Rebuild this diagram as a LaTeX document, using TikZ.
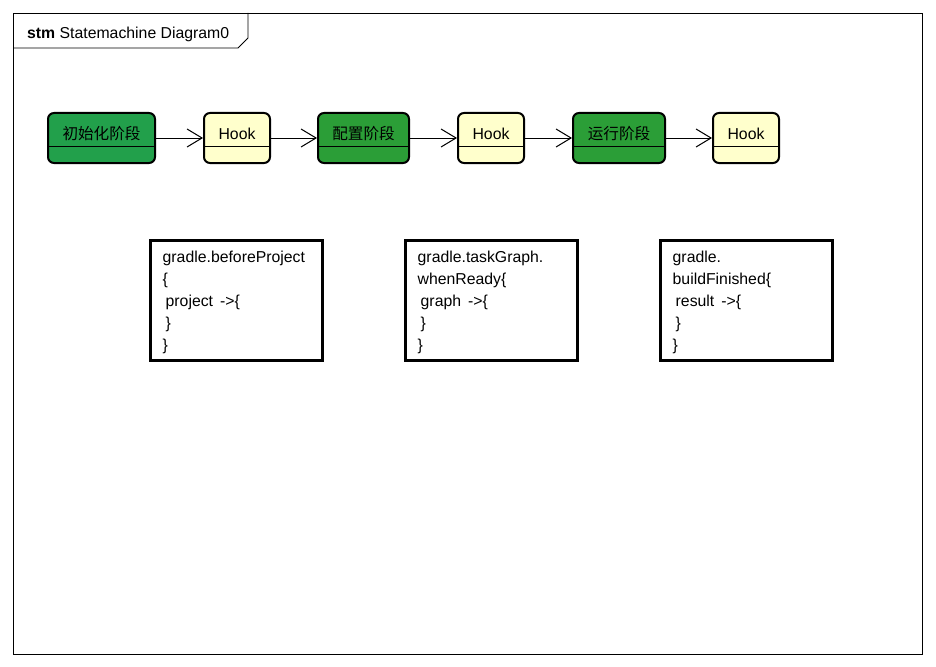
\documentclass[tikz,border=0pt]{standalone}
\usepackage{fontspec}
\setmainfont{Liberation Sans}
\newfontfamily\cjk{Noto Sans CJK SC}
\usetikzlibrary{arrows.meta}
\definecolor{stgreenA}{RGB}{34,160,75}
\definecolor{stgreenB}{RGB}{43,158,55}
\definecolor{hookfill}{RGB}{255,255,204}
\tikzset{
  x=1pt, y=-1pt,
  stbox/.style={draw=black, line width=2pt, rounded corners=6pt, minimum width=#1, minimum height=50pt, inner sep=0pt},
  stlabel/.style={font=\fontsize{15.8}{18}\selectfont, inner sep=0pt},
  cjklabel/.style={font=\cjk\fontsize{15.6}{18}\selectfont, inner sep=0pt},
  trans/.style={draw=black, line width=1pt, -{Straight Barb[length=15pt,width=18pt,line width=1pt]}},
  notebox/.style={draw=black, line width=3pt, minimum width=172pt, minimum height=120pt, inner sep=0pt},
  notetext/.style={font=\fontsize{15.8}{22}\selectfont, align=left, inner sep=0pt, anchor=west},
  divline/.style={draw=black, line width=1pt}
}
\begin{document}
\begin{tikzpicture}
\useasboundingbox (0,0) rectangle (936,666);
% frame
\draw[line width=0.8pt] (13,13) rectangle (922,654);
\draw[line width=0.8pt] (13,48) -- (238,48) -- (248,38) -- (248,13);
\node[anchor=base west, inner sep=0pt, font=\fontsize{15.8}{18}\selectfont] (title) at (27,39) {\textbf{stm} Statemachine Diagram0};

% states
\node[stbox=107pt, fill=stgreenA] (s1) at (101.5,138) {};
\node[stbox=66pt, fill=hookfill] (h1) at (237,138) {};
\node[stbox=91pt, fill=stgreenB] (s2) at (363.5,138) {};
\node[stbox=66pt, fill=hookfill] (h2) at (491,138) {};
\node[stbox=92pt, fill=stgreenB] (s3) at (619,138) {};
\node[stbox=66pt, fill=hookfill] (h3) at (746,138) {};

\foreach \n in {s1,h1,s2,h2,s3,h3}{
  \draw[divline] (\n.west |- 0,146) -- (\n.east |- 0,146);
}

\node[cjklabel] (t1) at (101.5,134) {初始化阶段};
\node[stlabel] (t2) at (237,134) {Hook};
\node[cjklabel] (t3) at (363.5,134) {配置阶段};
\node[stlabel] (t4) at (491,134) {Hook};
\node[cjklabel] (t5) at (619,134) {运行阶段};
\node[stlabel] (t6) at (746,134) {Hook};

% transitions
\draw[trans] (s1) -- (h1);
\draw[trans] (h1) -- (s2);
\draw[trans] (s2) -- (h2);
\draw[trans] (h2) -- (s3);
\draw[trans] (s3) -- (h3);

% notes
\node[notebox] (n1) at (236,300) {};
\node[notebox] (n2) at (491,300) {};
\node[notebox] (n3) at (746,300) {};

\node[notetext] (c1) at ([xshift=14pt,yshift=-2pt]n1.west) {gradle.beforeProject\\\{\\\hspace{3pt}project\hspace{7pt}->\{\\\hspace{3pt}\}\\\}};
\node[notetext] (c2) at ([xshift=14pt,yshift=-2pt]n2.west) {gradle.taskGraph.\\whenReady\{\\\hspace{3pt}graph\hspace{7pt}->\{\\\hspace{3pt}\}\\\}};
\node[notetext] (c3) at ([xshift=14pt,yshift=-2pt]n3.west) {gradle.\\buildFinished\{\\\hspace{3pt}result\hspace{7pt}->\{\\\hspace{3pt}\}\\\}};
\end{tikzpicture}
\end{document}
